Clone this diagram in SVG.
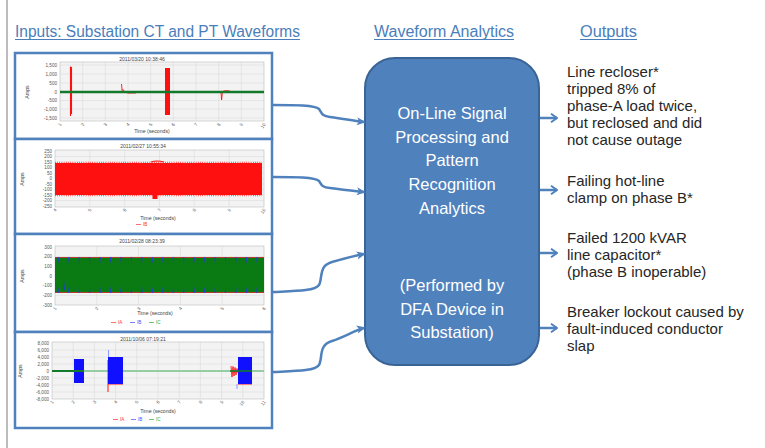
<svg xmlns="http://www.w3.org/2000/svg" width="765" height="448" viewBox="0 0 765 448">
  <style>
    .head { font-family: "Liberation Sans", Arial, sans-serif; font-size: 16px; fill: #4A7EBB; }
    .out { font-family: "Liberation Sans", Arial, sans-serif; font-size: 15px; fill: #262626; }
    .core { font-family: "Liberation Sans", Arial, sans-serif; font-size: 16.5px; fill: #ffffff; text-anchor: middle; }
    .panel { fill: #ffffff; stroke: #4F81BD; stroke-width: 2.5; }
    .plot { fill: #f3f3f3; stroke: #b0b0b0; stroke-width: 0.5; }
    .grid { stroke: #d6d6d6; stroke-width: 0.5; fill: none; }
    .ttl { font-family: "Liberation Sans", Arial, sans-serif; font-size: 5px; fill: #444; text-anchor: middle; }
    .yl { font-family: "Liberation Sans", Arial, sans-serif; font-size: 4.6px; fill: #555; text-anchor: end; }
    .xl { font-family: "Liberation Sans", Arial, sans-serif; font-size: 4.6px; fill: #555; text-anchor: end; }
    .ax { font-family: "Liberation Sans", Arial, sans-serif; font-size: 5.2px; fill: #444; text-anchor: middle; }
    .lg { font-family: "Liberation Sans", Arial, sans-serif; font-size: 4.6px; }
    .conn { fill: none; stroke: #4F81BD; stroke-width: 2.5; }
  </style>
  <defs>
    <marker id="headIn" viewBox="0 0 10 10" refX="8" refY="5" markerWidth="9" markerHeight="9" markerUnits="userSpaceOnUse" orient="auto">
      <path d="M0,0.5 L10,5 L0,9.5 L2.5,5 Z" fill="#4F81BD"/>
    </marker>
    <marker id="headOut" viewBox="0 0 10 10" refX="9" refY="5" markerWidth="10" markerHeight="10" markerUnits="userSpaceOnUse" orient="auto">
      <path d="M3,0.8 L9,5 L3,9.2" fill="none" stroke="#4F81BD" stroke-width="2"/>
    </marker>
    <pattern id="spikes" x="55" y="256" width="10.45" height="38" patternUnits="userSpaceOnUse">
      <path d="M0,1.5 H10.45 M0,36.5 H10.45" stroke="#e03030" stroke-width="0.8"/>
      <path d="M2.5,1 L3.3,8 L4.1,1 Z M2.5,37 L3.3,30 L4.1,37 Z" fill="#1f3fd0"/>
    </pattern>
  </defs>

  <!-- page margin rule -->
  <line x1="7" y1="0" x2="7" y2="448" stroke="#a6a6a6" stroke-width="1.5"/>

  <!-- column headings -->
  <g id="headings">
    <text class="head" x="15" y="37" textLength="285" lengthAdjust="spacingAndGlyphs">Inputs: Substation CT and PT Waveforms</text>
    <line x1="15" y1="39.5" x2="300" y2="39.5" stroke="#4A7EBB" stroke-width="1"/>
    <text class="head" x="374" y="37" textLength="140" lengthAdjust="spacingAndGlyphs">Waveform Analytics</text>
    <line x1="374" y1="39.5" x2="514" y2="39.5" stroke="#4A7EBB" stroke-width="1"/>
    <text class="head" x="580" y="37" textLength="57" lengthAdjust="spacingAndGlyphs">Outputs</text>
    <line x1="580" y1="39.5" x2="637" y2="39.5" stroke="#4A7EBB" stroke-width="1"/>
  </g>

  <!-- waveform panel 1 -->
  <g id="wave1">
    <rect class="panel" x="15" y="53" width="257" height="86"/>
    <text class="ttl" x="142" y="60.5">2011/03/20 10:38:46</text>
    <rect class="plot" x="60" y="62" width="204" height="59"/>
    <path class="grid" d="M82.7,62V121M105.3,62V121M128,62V121M150.7,62V121M173.3,62V121M196,62V121M218.7,62V121M241.3,62V121M60,65H264M60,74H264M60,83H264M60,100.5H264M60,109H264M60,118H264"/>
    <g class="yl">
      <text x="57" y="66.5">1,500</text><text x="57" y="75.5">1,000</text><text x="57" y="84.5">500</text>
      <text x="57" y="93.5">0</text><text x="57" y="102">-500</text><text x="57" y="110.5">-1,000</text><text x="57" y="119.5">-1,500</text>
    </g>
    <text class="ax" transform="translate(29,92) rotate(-90)">Amps</text>
    <!-- traces -->
    <line x1="60" y1="91.5" x2="264" y2="91.5" stroke="#3050e0" stroke-width="0.8"/>
    <path d="M70.5,66.5 V116 M71.5,67 V114" stroke="#ff1010" stroke-width="1.1"/>
    <path d="M121.5,84 L122.3,93 M122.5,89 Q125,94 132,93 L136,93" stroke="#ff1010" stroke-width="0.9" fill="none"/>
    <rect x="165" y="68" width="5" height="47" fill="#ff1010"/>
    <path d="M221,92 L221.6,100 L222.4,92 Q224,90 230,91" stroke="#ff1010" stroke-width="0.9" fill="none"/>
    <line x1="60" y1="92" x2="264" y2="92" stroke="#127a2a" stroke-width="2.4"/>
    <g class="xl">
      <text transform="translate(62,124.5) rotate(-55)">1</text><text transform="translate(84.7,124.5) rotate(-55)">2</text>
      <text transform="translate(107.3,124.5) rotate(-55)">3</text><text transform="translate(130,124.5) rotate(-55)">4</text>
      <text transform="translate(152.7,124.5) rotate(-55)">5</text><text transform="translate(175.3,124.5) rotate(-55)">6</text>
      <text transform="translate(198,124.5) rotate(-55)">7</text><text transform="translate(220.7,124.5) rotate(-55)">8</text>
      <text transform="translate(243.3,124.5) rotate(-55)">9</text><text transform="translate(266,124.5) rotate(-55)">10</text>
    </g>
    <text class="ax" x="152" y="133">Time (seconds)</text>
  </g>

  <!-- waveform panel 2 -->
  <g id="wave2">
    <rect class="panel" x="15" y="139" width="257" height="95"/>
    <text class="ttl" x="143" y="148">2011/02/27 10:55:34</text>
    <rect class="plot" x="55" y="150" width="209" height="57"/>
    <path class="grid" d="M89.8,150V207M124.7,150V207M159.5,150V207M194.3,150V207M229.2,150V207M55,156.5H264M55,162H264M55,167.5H264M55,173H264M55,178.5H264M55,184H264M55,189.5H264M55,195H264M55,200.5H264"/>
    <g class="yl">
      <text x="52" y="152.5">250</text><text x="52" y="158">200</text><text x="52" y="163.5">150</text><text x="52" y="169">100</text>
      <text x="52" y="174.5">50</text><text x="52" y="180">0</text><text x="52" y="185.5">-50</text><text x="52" y="191">-100</text>
      <text x="52" y="196.5">-150</text><text x="52" y="202">-200</text><text x="52" y="207.5">-250</text>
    </g>
    <text class="ax" transform="translate(24,179) rotate(-90)">Amps</text>
    <rect x="55" y="163" width="207" height="32" fill="#ff1010"/>
    <path d="M55,162.6 H262 M55,195.4 H262" stroke="#ff1010" stroke-width="1.6" stroke-dasharray="0.6 1.6"/>
    <rect x="152.5" y="190" width="5" height="9" fill="#ff1010"/>
    <path d="M151,162 Q157,160 164,162" stroke="#ff1010" stroke-width="1.2" fill="none"/>
    <g class="xl">
      <text transform="translate(57,210) rotate(-55)">4</text><text transform="translate(91.8,210) rotate(-55)">5</text>
      <text transform="translate(126.7,210) rotate(-55)">6</text><text transform="translate(161.5,210) rotate(-55)">7</text>
      <text transform="translate(196.3,210) rotate(-55)">8</text><text transform="translate(231.2,210) rotate(-55)">9</text>
      <text transform="translate(266,210) rotate(-55)">10</text>
    </g>
    <text class="ax" x="158" y="219.5">Time (seconds)</text>
    <line x1="136" y1="224.5" x2="141" y2="224.5" stroke="#ff3030" stroke-width="0.7"/>
    <text class="lg" x="143" y="226" fill="#ff3030">IB</text>
  </g>

  <!-- waveform panel 3 -->
  <g id="wave3">
    <rect class="panel" x="15" y="234" width="257" height="98"/>
    <text class="ttl" x="142" y="243">2011/02/28 08:23:39</text>
    <rect class="plot" x="55" y="246" width="209" height="59"/>
    <path class="grid" d="M96.8,246V305M138.6,246V305M180.4,246V305M222.2,246V305M55,256.7H264M55,266.3H264M55,276H264M55,285.7H264M55,295.3H264"/>
    <g class="yl">
      <text x="52" y="248.5">300</text><text x="52" y="258.2">200</text><text x="52" y="267.8">100</text><text x="52" y="277.5">0</text>
      <text x="52" y="287.2">-100</text><text x="52" y="296.8">-200</text><text x="52" y="306.5">-300</text>
    </g>
    <text class="ax" transform="translate(24,276) rotate(-90)">Amps</text>
    <rect x="55" y="257" width="209" height="36" fill="#0a7a12"/>
    <rect x="55" y="256" width="209" height="38" fill="url(#spikes)"/>
    <path d="M63,290 L64,280 L65,290 Z" fill="#1f3fd0"/>
    <g class="xl">
      <text transform="translate(57,308.5) rotate(-55)">1</text><text transform="translate(98.8,308.5) rotate(-55)">2</text>
      <text transform="translate(140.6,308.5) rotate(-55)">3</text><text transform="translate(182.4,308.5) rotate(-55)">4</text>
      <text transform="translate(224.2,308.5) rotate(-55)">5</text><text transform="translate(266,308.5) rotate(-55)">6</text>
    </g>
    <text class="ax" x="155" y="314.5">Time (seconds)</text>
    <line x1="111" y1="322.5" x2="116" y2="322.5" stroke="#ff3030" stroke-width="0.7"/>
    <text class="lg" x="118" y="324" fill="#ff3030">IA</text>
    <line x1="130" y1="322.5" x2="135" y2="322.5" stroke="#4050ff" stroke-width="0.7"/>
    <text class="lg" x="137" y="324" fill="#4050ff">IB</text>
    <line x1="149" y1="322.5" x2="154" y2="322.5" stroke="#30b030" stroke-width="0.7"/>
    <text class="lg" x="156" y="324" fill="#30b030">IC</text>
  </g>

  <!-- waveform panel 4 -->
  <g id="wave4">
    <rect class="panel" x="15" y="332" width="257" height="96"/>
    <text class="ttl" x="143" y="340.5">2011/10/06 07:19:21</text>
    <rect class="plot" x="52" y="342" width="212" height="57"/>
    <path class="grid" d="M73.2,342V399M94.4,342V399M115.6,342V399M136.8,342V399M158,342V399M179.2,342V399M200.4,342V399M221.6,342V399M242.8,342V399M52,350H264M52,357H264M52,364H264M52,371H264M52,378H264M52,385H264M52,392H264"/>
    <g class="yl">
      <text x="49" y="344.5">8,000</text><text x="49" y="351.5">6,000</text><text x="49" y="358.5">4,000</text><text x="49" y="365.5">2,000</text>
      <text x="49" y="372.5">0</text><text x="49" y="379.5">-2,000</text><text x="49" y="386.5">-4,000</text><text x="49" y="393.5">-6,000</text><text x="49" y="400.5">-8,000</text>
    </g>
    <text class="ax" transform="translate(22,371) rotate(-90)">Amps</text>
    <line x1="52" y1="371" x2="264" y2="371" stroke="#4a80c8" stroke-width="0.8"/>
    <line x1="84" y1="371" x2="264" y2="371" stroke="#8fd08f" stroke-width="1.4"/>
    <!-- fault bursts -->
    <path d="M74,359.5 H84 M74,382.5 H84" stroke="#ff1010" stroke-width="1"/>
    <rect x="74" y="359" width="10" height="24" fill="#1010ff"/>
    <path d="M108,357.5 H123 M108,384 H123 M108,360 V392" stroke="#ff1010" stroke-width="1"/>
    <rect x="108" y="357" width="15" height="27" fill="#1010ff"/>
    <path d="M108.5,357 V350" stroke="#8090ff" stroke-width="0.9"/>
    <path d="M231,366 L232,377 L233,366.5 L234,376 L235,367.5 L236,375 L237,368.5 L238,373" stroke="#ff1010" stroke-width="0.9" fill="none"/>
    <path d="M238,357.5 H252 M238,384 H252" stroke="#ff1010" stroke-width="1"/>
    <rect x="238" y="357" width="14" height="27" fill="#1010ff"/>
    <path d="M237,384 V389" stroke="#8090ff" stroke-width="0.9"/>
    <line x1="52" y1="371" x2="84" y2="371" stroke="#127a2a" stroke-width="2"/>
    <line x1="230" y1="371" x2="252" y2="371" stroke="#127a2a" stroke-width="1.6"/>
    <g class="xl">
      <text transform="translate(54,402) rotate(-55)">1</text><text transform="translate(75.2,402) rotate(-55)">2</text>
      <text transform="translate(96.4,402) rotate(-55)">3</text><text transform="translate(117.6,402) rotate(-55)">4</text>
      <text transform="translate(138.8,402) rotate(-55)">5</text><text transform="translate(160,402) rotate(-55)">6</text>
      <text transform="translate(181.2,402) rotate(-55)">7</text><text transform="translate(202.4,402) rotate(-55)">8</text>
      <text transform="translate(223.6,402) rotate(-55)">9</text><text transform="translate(244.8,402) rotate(-55)">10</text>
      <text transform="translate(266,402) rotate(-55)">11</text>
    </g>
    <text class="ax" x="158" y="412.5">Time (seconds)</text>
    <line x1="113" y1="419.5" x2="118" y2="419.5" stroke="#ff3030" stroke-width="0.7"/>
    <text class="lg" x="120" y="421" fill="#ff3030">IA</text>
    <line x1="131" y1="419.5" x2="136" y2="419.5" stroke="#4050ff" stroke-width="0.7"/>
    <text class="lg" x="138" y="421" fill="#4050ff">IB</text>
    <line x1="149" y1="419.5" x2="154" y2="419.5" stroke="#30b030" stroke-width="0.7"/>
    <text class="lg" x="156" y="421" fill="#30b030">IC</text>
  </g>

  <!-- analytics block -->
  <g id="analytics">
    <rect x="365" y="58" width="174" height="307" rx="30" ry="30" fill="#4F81BD" stroke="#3A6496" stroke-width="2"/>
    <text class="core" x="452" y="119">On-Line Signal</text>
    <text class="core" x="452" y="143">Processing and</text>
    <text class="core" x="452" y="166">Pattern</text>
    <text class="core" x="452" y="190">Recognition</text>
    <text class="core" x="452" y="214">Analytics</text>
    <text class="core" x="452" y="291">(Performed by</text>
    <text class="core" x="452" y="315">DFA Device in</text>
    <text class="core" x="452" y="338">Substation)</text>
  </g>

  <!-- outputs -->
  <g id="out1">
    <text class="out" x="567" y="77">Line recloser*</text>
    <text class="out" x="567" y="94">tripped 8% of</text>
    <text class="out" x="567" y="111">phase-A load twice,</text>
    <text class="out" x="567" y="128">but reclosed and did</text>
    <text class="out" x="567" y="145">not cause outage</text>
  </g>
  <g id="out2">
    <text class="out" x="567" y="186">Failing hot-line</text>
    <text class="out" x="567" y="203">clamp on phase B*</text>
  </g>
  <g id="out3">
    <text class="out" x="567" y="243">Failed 1200 kVAR</text>
    <text class="out" x="567" y="260">line capacitor*</text>
    <text class="out" x="567" y="277">(phase B inoperable)</text>
  </g>
  <g id="out4">
    <text class="out" x="567" y="317">Breaker lockout caused by</text>
    <text class="out" x="567" y="334">fault-induced conductor</text>
    <text class="out" x="567" y="351">slap</text>
  </g>

  <!-- connectors -->
  <g id="connectors">
    <path class="conn" marker-end="url(#headIn)" d="M273,105 C295,105 315,105 319,109 C322,113 321,116 330,117 C345,119 355,121 364,122"/>
    <path class="conn" marker-end="url(#headIn)" d="M273,177 C295,177 315,177 319,181 C322,185 321,187 330,188 C345,190 355,191 364,192"/>
    <path class="conn" marker-end="url(#headIn)" d="M273,292 C295,291 315,291 319,285 C323,278 318,266 332,262 C345,258 355,256 364,254"/>
    <path class="conn" marker-end="url(#headIn)" d="M273,372 C295,371 315,371 319,365 C323,358 318,345 332,341 C345,337 355,330 364,328"/>
    <path class="conn" marker-end="url(#headOut)" d="M540,118 H557"/>
    <path class="conn" marker-end="url(#headOut)" d="M540,190 H557"/>
    <path class="conn" marker-end="url(#headOut)" d="M540,253 H557"/>
    <path class="conn" marker-end="url(#headOut)" d="M540,328 H557"/>
  </g>
</svg>
